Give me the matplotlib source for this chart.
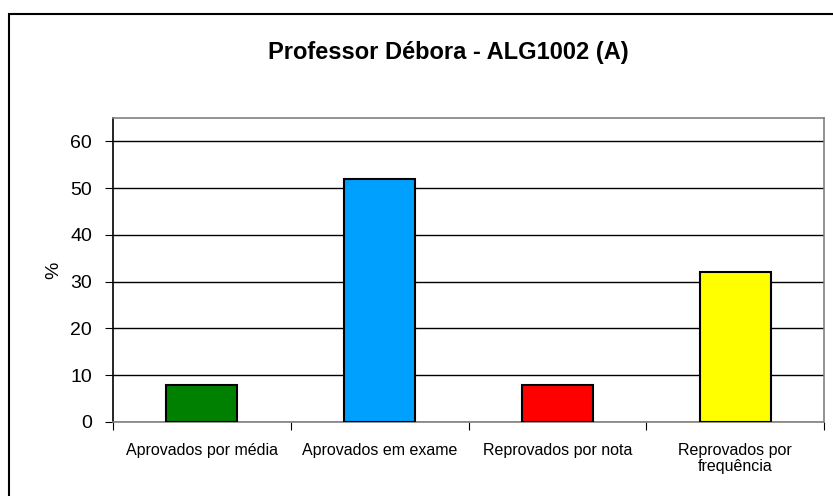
import numpy as np
import matplotlib
matplotlib.use("Agg")
from matplotlib import pyplot as plt
from matplotlib.patches import Rectangle

plt.rcParams['font.family'] = ['Liberation Sans', 'DejaVu Sans']

categories = ["Aprovados por média", "Aprovados em exame", "Reprovados por nota", "Reprovados por\nfrequência"]
values = [8, 52, 8, 32]
colors = ["#008000", "#00a0ff", "#ff0000", "#ffff00"]
yticks = [0, 10, 20, 30, 40, 50, 60]

fig = plt.figure(figsize=(8.33, 4.96), dpi=100)
W, H = 833, 496

# outer chart border (right and bottom run off the image)
fig.patches.append(Rectangle((9/W, -0.1), 1.2, (496-14)/H + 0.1, transform=fig.transFigure,
                             fill=False, edgecolor='black', linewidth=1.5))

ax = fig.add_axes([113/W, 1-422/H, (824-113)/W, (422-118)/H])
x = np.arange(len(categories))
ax.bar(x, values, width=0.4, color=colors, edgecolor='black', linewidth=1.5, zorder=3)

ax.set_xlim(-0.5, len(categories)-0.5)
ax.set_ylim(0, 65)
ax.set_yticks(yticks)
ax.set_yticklabels([str(t) for t in yticks], fontsize=14)
ax.yaxis.grid(True, color='black', linewidth=1, zorder=0)
ax.set_axisbelow(True)

# category labels between tick marks at boundaries
ax.set_xticks(np.arange(len(categories)+1)-0.5)
ax.set_xticklabels([])
ax.set_xticks(x, minor=True)
ax.set_xticklabels(categories, minor=True, fontsize=11.5, linespacing=1.1)
ax.tick_params(axis='x', which='minor', length=0, pad=15)
ax.tick_params(axis='x', which='major', direction='out', length=6, color='black')
ax.tick_params(axis='y', direction='out', length=6, color='black', pad=9)

ax.spines['left'].set_color('black')
ax.spines['bottom'].set_color('#808080')
ax.spines['top'].set_color('#808080')
ax.spines['right'].set_color('#808080')
for s in ax.spines.values():
    s.set_linewidth(1.2)

ax.set_ylabel("%", fontsize=14, labelpad=6)
fig.text(448/W, 1-52/H, "Professor Débora - ALG1002 (A)", ha='center', va='center',
         fontsize=17, fontweight='bold')

fig.savefig("out.png", dpi=100)
